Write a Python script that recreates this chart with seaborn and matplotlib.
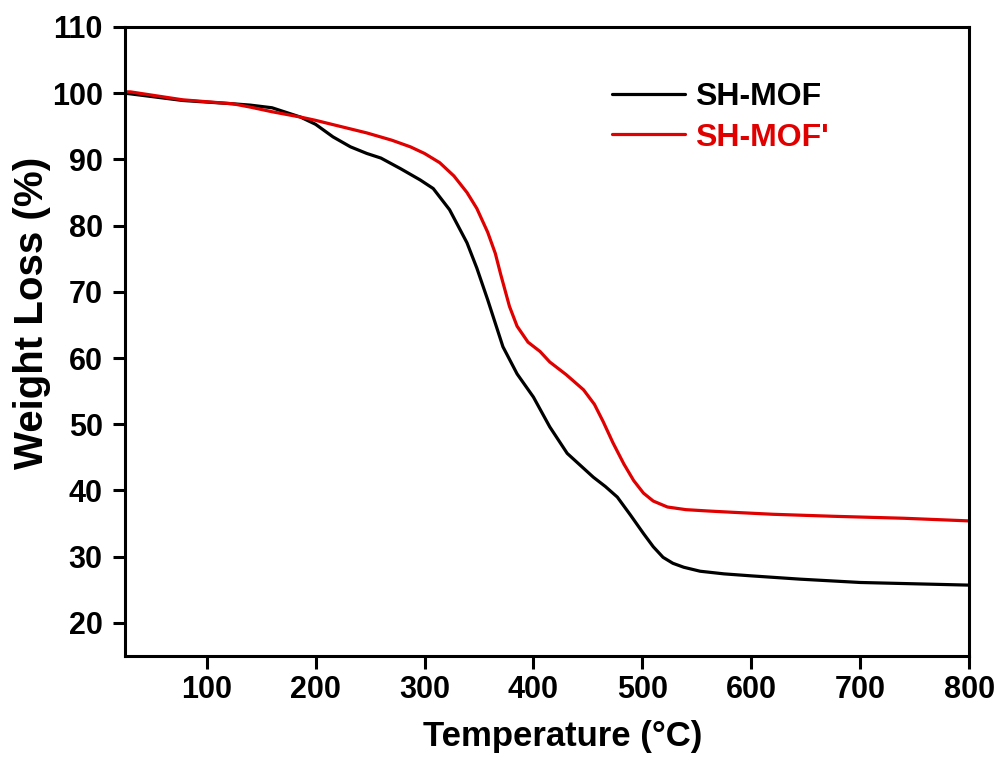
import matplotlib
matplotlib.use("Agg")
import matplotlib.pyplot as plt
import seaborn as sns

# TGA curves: temperature (°C) and remaining weight (%)
temp_sh = [25, 30, 78, 124, 140, 160, 186, 200, 216, 232, 247, 260, 278, 296, 308, 323, 339,
           348, 358, 372, 385, 400, 415, 431, 443, 455, 466, 477, 489, 501, 510, 519, 528,
           538, 553, 575, 600, 645, 700, 750, 800]
wt_sh = [100.0, 99.9, 98.9, 98.4, 98.2, 97.8, 96.4, 95.3, 93.4, 91.9, 90.9, 90.2, 88.6, 86.9,
         85.6, 82.4, 77.4, 73.6, 68.8, 61.7, 57.6, 54.1, 49.6, 45.6, 43.8, 42.0, 40.6, 39.0,
         36.3, 33.5, 31.5, 29.9, 29.0, 28.4, 27.8, 27.4, 27.1, 26.6, 26.1, 25.9, 25.7]

temp_shp = [25, 30, 78, 124, 140, 160, 186, 200, 247, 270, 287, 300, 314, 327, 339, 348,
            358, 365, 370, 378, 385, 395, 406, 415, 430, 446, 456, 464, 473, 483, 492, 501,
            510, 523, 540, 560, 583, 620, 675, 740, 800]
wt_shp = [100.2, 100.2, 99.0, 98.4, 97.9, 97.2, 96.4, 95.9, 94.0, 92.9, 91.9, 90.9, 89.5,
          87.5, 85.0, 82.6, 79.0, 75.8, 72.6, 67.8, 64.8, 62.4, 61.0, 59.4, 57.5, 55.2, 53.0,
          50.4, 47.2, 44.0, 41.5, 39.6, 38.4, 37.5, 37.1, 36.9, 36.7, 36.4, 36.1, 35.8, 35.4]

labels = ["SH-MOF", "SH-MOF'"]
colors = ["#000000", "#e00000"]

sns.set_theme(style="ticks", rc={"text.color": "black", "axes.labelcolor": "black",
                                 "xtick.color": "black", "ytick.color": "black",
                                 "axes.edgecolor": "black"})
plt.rcParams["font.family"] = ["Liberation Sans", "DejaVu Sans"]
plt.rcParams["font.weight"] = "bold"

fig = plt.figure(figsize=(9.99, 7.58), dpi=100)
ax = fig.add_axes([0.1251, 0.1346, 0.8450, 0.8298])

sns.lineplot(x=temp_sh, y=wt_sh, ax=ax, color=colors[0], linewidth=2.3, label=labels[0],
             sort=False)
sns.lineplot(x=temp_shp, y=wt_shp, ax=ax, color=colors[1], linewidth=2.3, label=labels[1],
             sort=False)

ax.set_xlim(25, 800)
ax.set_ylim(15, 110)
ax.set_xticks([100, 200, 300, 400, 500, 600, 700, 800])
ax.set_yticks([20, 30, 40, 50, 60, 70, 80, 90, 100, 110])

for side in ["top", "right", "left", "bottom"]:
    ax.spines[side].set_visible(True)
    ax.spines[side].set_linewidth(2.2)
    ax.spines[side].set_color("black")

ax.tick_params(axis="both", direction="out", length=9, width=2.2, labelsize=22,
               colors="black")
ax.tick_params(axis="x", pad=5)
ax.tick_params(axis="y", pad=7)
ax.tick_params(top=False, right=False)
for lbl in ax.get_xticklabels() + ax.get_yticklabels():
    lbl.set_fontweight("bold")

ax.set_xlabel("Temperature (°C)", fontsize=25, fontweight="bold")
ax.set_ylabel("Weight Loss (%)", fontsize=29, fontweight="bold")
ax.xaxis.set_label_coords(0.518, -0.101)
ax.yaxis.set_label_coords(-0.088, 0.545)

leg = ax.legend(loc="upper left", bbox_to_anchor=(0.577, 0.9125), frameon=False,
                handlelength=2.29, handletextpad=0.31, labelspacing=0.33,
                borderpad=0, borderaxespad=0, labelcolor="linecolor",
                prop={"weight": "bold", "size": 23})

fig.savefig("out.png", dpi=100)
